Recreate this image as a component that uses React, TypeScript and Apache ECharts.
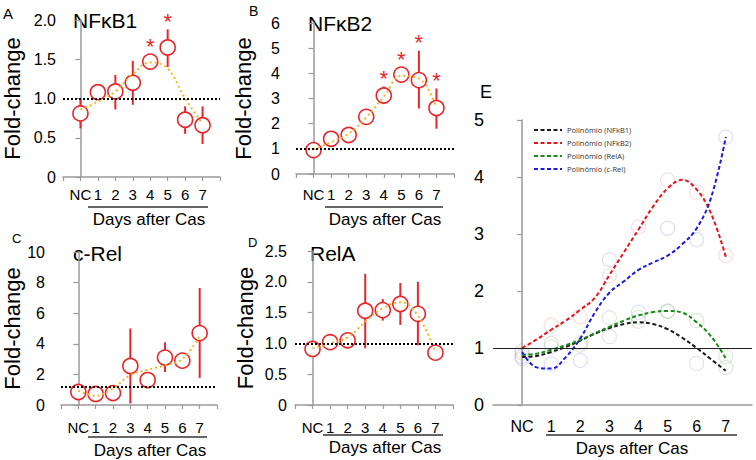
import React, { useEffect, useRef } from 'react';
import * as echarts from 'echarts';

// ---------- data ----------
const DAYS = [0, 1, 2, 3, 4, 5, 6, 7];
const X_LABELS = ['NC', '1', '2', '3', '4', '5', '6', '7'];

const NFKB1_MEAN = [0.81, 1.08, 1.09, 1.2, 1.47, 1.65, 0.73, 0.66];
const NFKB1_LOW = [0.62, 1.02, 0.86, 0.92, 1.42, 1.4, 0.55, 0.42];
const NFKB1_HIGH = [0.99, 1.14, 1.3, 1.48, 1.54, 1.88, 0.9, 0.9];
const NFKB1_FIT = [0.86, 0.96, 1.09, 1.31, 1.46, 1.38, 1.0, 0.68];
const NFKB1_SIG = [4, 5];
const NFKB1_BASE = 1.0;

const NFKB2_MEAN = [0.95, 1.4, 1.55, 2.27, 3.12, 3.95, 3.73, 2.62];
const NFKB2_LOW = [0.85, 1.3, 1.45, 2.15, 2.78, 3.8, 2.6, 1.8];
const NFKB2_HIGH = [1.05, 1.5, 1.65, 2.4, 3.48, 4.2, 4.9, 3.4];
const NFKB2_FIT = [0.98, 1.27, 1.6, 2.25, 3.07, 3.9, 3.8, 2.65];
const NFKB2_SIG = [4, 5, 6, 7];
const NFKB2_BASE = 1.0;

const CREL_MEAN = [0.85, 0.72, 0.78, 2.55, 1.63, 3.1, 2.9, 4.7];
const CREL_LOW = [0.7, 0.6, 0.65, 0.1, 1.1, 2.15, 2.7, 1.77];
const CREL_HIGH = [1.0, 0.85, 0.9, 5.0, 1.9, 4.1, 3.1, 7.65];
const CREL_FIT = [0.95, 0.6, 1.1, 1.95, 2.3, 2.6, 3.0, 4.5];
const CREL_SIG: number[] = [];
const CREL_BASE = 1.2;

const RELA_MEAN = [0.91, 1.02, 1.05, 1.53, 1.54, 1.64, 1.48, 0.85];
const RELA_LOW = [0.85, 0.96, 0.98, 0.92, 1.37, 1.3, 0.97, 0.8];
const RELA_HIGH = [0.97, 1.08, 1.12, 2.13, 1.72, 1.98, 2.0, 0.9];
const RELA_FIT = [0.92, 1.0, 1.1, 1.35, 1.57, 1.67, 1.45, 0.86];
const RELA_SIG: number[] = [];
const RELA_BASE = 1.0;

// panel E: polynomial fits read at half-day steps
const E_X = [0, 0.5, 1, 1.5, 2, 2.5, 3, 3.5, 4, 4.5, 5, 5.5, 6, 6.5, 7];
const E_FIT_NFKB1 = [0.84, 0.86, 0.93, 1.02, 1.13, 1.25, 1.35, 1.42, 1.45, 1.42, 1.33, 1.18, 1.0, 0.8, 0.6];
const E_FIT_NFKB2 = [1.0, 1.15, 1.32, 1.48, 1.67, 1.88, 2.28, 2.68, 3.08, 3.48, 3.8, 3.95, 3.78, 3.35, 2.6];
const E_FIT_RELA = [0.88, 0.9, 0.97, 1.05, 1.14, 1.26, 1.37, 1.48, 1.57, 1.63, 1.65, 1.62, 1.45, 1.2, 0.82];
const E_FIT_CREL = [0.93, 0.66, 0.64, 0.84, 1.17, 1.62, 1.97, 2.17, 2.37, 2.5, 2.62, 2.82, 3.1, 3.65, 4.7];
const E_NAMES = ['Polinômio (NFkB1)', 'Polinômio (NFkB2)', 'Polinômio (RelA)', 'Polinômio (c-Rel)'];

// ---------- styling ----------
const FONT = 'Liberation Sans, Arial, Helvetica, sans-serif';
const RED = '#e8262a';
const YELLOW = '#f6b324';
const AXIS_GRAY = '#9a9a9a';

const PANELS = [
  { title: 'NFκB1', letter: 'A', grid: { left: 62, top: 20, width: 158, height: 157 }, yMax: 2, yInt: 0.5, dec: 1,
    mean: NFKB1_MEAN, low: NFKB1_LOW, high: NFKB1_HIGH, fit: NFKB1_FIT, sig: NFKB1_SIG, base: NFKB1_BASE,
    yMargin: 7, xMargin: 10, nameGap: 40 },
  { title: 'NFκB2', letter: 'B', grid: { left: 296, top: 23, width: 158, height: 151 }, yMax: 6, yInt: 1, dec: 0,
    mean: NFKB2_MEAN, low: NFKB2_LOW, high: NFKB2_HIGH, fit: NFKB2_FIT, sig: NFKB2_SIG, base: NFKB2_BASE,
    yMargin: 16, xMargin: 13, nameGap: 42 },
  { title: 'c-Rel', letter: 'C', grid: { left: 59, top: 252, width: 158, height: 153 }, yMax: 10, yInt: 2, dec: 0,
    mean: CREL_MEAN, low: CREL_LOW, high: CREL_HIGH, fit: CREL_FIT, sig: CREL_SIG, base: CREL_BASE,
    yMargin: 16, xMargin: 15, nameGap: 38 },
  { title: 'RelA', letter: 'D', grid: { left: 295, top: 251, width: 158, height: 154 }, yMax: 2.5, yInt: 0.5, dec: 1,
    mean: RELA_MEAN, low: RELA_LOW, high: RELA_HIGH, fit: RELA_FIT, sig: RELA_SIG, base: RELA_BASE,
    yMargin: 8, xMargin: 15, nameGap: 39 },
];

const xFormatter = (v: number) => {
  if (Math.abs(v - Math.round(v)) > 1e-6) return '';
  const i = Math.round(v);
  return i >= 0 && i <= 7 ? X_LABELS[i] : '';
};

export default function App() {
  const ref = useRef<HTMLDivElement>(null);
  useEffect(() => {
    if (!ref.current) return;
    const chart = echarts.init(ref.current, undefined, { renderer: 'svg' });

    const grids: any[] = [];
    const xAxes: any[] = [];
    const yAxes: any[] = [];
    const series: any[] = [];

    PANELS.forEach((p, i) => {
      grids.push({ ...p.grid });
      xAxes.push({
        type: 'value', gridIndex: i, min: -1, max: 8, interval: 1,
        axisLine: { lineStyle: { color: AXIS_GRAY, width: 1.5 } },
        axisTick: { show: true, length: 4, lineStyle: { color: AXIS_GRAY, width: 1.2 } },
        splitLine: { show: false },
        axisLabel: { formatter: xFormatter, color: '#000', fontSize: 15, fontFamily: FONT, margin: p.xMargin },
      });
      yAxes.push({
        type: 'value', gridIndex: i, min: 0, max: p.yMax, interval: p.yInt,
        name: 'Fold-change', nameLocation: 'middle', nameGap: p.nameGap,
        nameTextStyle: { fontSize: 22, color: '#000', fontFamily: FONT },
        axisLine: { show: true, lineStyle: { color: AXIS_GRAY, width: 1.5 } },
        axisTick: { show: true, length: 5, lineStyle: { color: AXIS_GRAY, width: 1.2 } },
        splitLine: { show: false },
        axisLabel: {
          color: '#000', fontSize: 16, fontFamily: FONT, margin: p.yMargin,
          formatter: (v: number) => (v === 0 ? '0' : v.toFixed(p.dec)),
        },
      });
      // error bars
      series.push({
        type: 'custom', xAxisIndex: i, yAxisIndex: i, z: 2,
        data: DAYS.map((d) => [d, p.low[d], p.high[d]]),
        encode: { x: 0, y: [1, 2] },
        renderItem: (_params: any, api: any) => {
          const x = api.value(0);
          const a = api.coord([x, api.value(1)]);
          const b = api.coord([x, api.value(2)]);
          return { type: 'line', shape: { x1: a[0], y1: a[1], x2: b[0], y2: b[1] }, style: { stroke: RED, lineWidth: 2 } };
        },
      });
      // means
      series.push({
        type: 'scatter', xAxisIndex: i, yAxisIndex: i, z: 3,
        data: DAYS.map((d) => [d, p.mean[d]]),
        symbol: 'circle', symbolSize: 15,
        itemStyle: { color: '#ffffff', borderColor: RED, borderWidth: 1.6, opacity: 1 },
        markLine: {
          silent: true, symbol: ['none', 'none'], animation: false,
          label: { show: false },
          lineStyle: { color: '#000', type: [2, 2], width: 2 },
          data: [{ yAxis: p.base }],
        },
      });
      // fitted curve
      series.push({
        type: 'line', xAxisIndex: i, yAxisIndex: i, z: 4,
        data: DAYS.map((d) => [d, p.fit[d]]),
        smooth: 0.4, symbol: 'none',
        lineStyle: { color: YELLOW, width: 2, type: [2, 3] },
      });
      // significance asterisks
      if (p.sig.length) {
        series.push({
          type: 'custom', xAxisIndex: i, yAxisIndex: i, z: 5,
          data: p.sig.map((d) => [d, p.mean[d], p.high[d]]),
          encode: { x: 0, y: [1, 2] },
          renderItem: (_params: any, api: any) => {
            const x = api.value(0);
            const m = api.coord([x, api.value(1)]);
            const h = api.coord([x, api.value(2)]);
            const top = Math.min(h[1], m[1] - 7.5);
            return {
              type: 'text', x: m[0], y: top - 8,
              style: { text: '*', fill: RED, fontSize: 22, fontFamily: FONT, align: 'center', verticalAlign: 'middle' },
            };
          },
        });
      }
    });

    // ---- panel E ----
    const ei = PANELS.length;
    grids.push({ left: 493, top: 120, width: 259, height: 285 });
    xAxes.push({
      type: 'value', gridIndex: ei, min: -1, max: 7.9, interval: 1,
      axisLine: { lineStyle: { color: AXIS_GRAY, width: 1.5 } },
      axisTick: { show: false },
      splitLine: { show: false },
      axisLabel: { formatter: xFormatter, color: '#000', fontSize: 16, fontFamily: FONT, margin: 13 },
    });
    yAxes.push({
      type: 'value', gridIndex: ei, min: 0, max: 5, interval: 1,
      axisLine: { show: true, lineStyle: { color: AXIS_GRAY, width: 1.5 } },
      axisTick: { show: true, length: 5, lineStyle: { color: AXIS_GRAY, width: 1.2 } },
      splitLine: { show: false },
      axisLabel: { color: '#000', fontSize: 18, fontFamily: FONT, margin: 9 },
    });
    const E_POINTS = [NFKB1_MEAN, NFKB2_MEAN, RELA_MEAN, CREL_MEAN];
    const E_FITS = [E_FIT_NFKB1, E_FIT_NFKB2, E_FIT_RELA, E_FIT_CREL];
    const E_COLORS = ['#1a1a1a', '#e5141b', '#178a17', '#1c1cd8'];
    const E_FAINT = ['rgba(120,120,120,0.25)', 'rgba(235,90,90,0.25)', 'rgba(70,160,70,0.25)', 'rgba(90,90,230,0.25)'];
    E_POINTS.forEach((pts, k) => {
      series.push({
        type: 'scatter', xAxisIndex: ei, yAxisIndex: ei, z: 2,
        data: DAYS.map((d) => [d, pts[d]]),
        symbol: 'circle', symbolSize: 14,
        itemStyle: { color: 'rgba(255,255,255,0)', borderColor: E_FAINT[k], borderWidth: 1.2 },
      });
    });
    E_FITS.forEach((fit, k) => {
      series.push({
        name: E_NAMES[k],
        type: 'line', xAxisIndex: ei, yAxisIndex: ei, z: 4,
        data: E_X.map((x, j) => [x, fit[j]]),
        smooth: 0.4, symbol: 'none', showSymbol: false,
        itemStyle: { color: E_COLORS[k] },
        lineStyle: { color: E_COLORS[k], width: 2, type: [4, 2.5] },
        markLine: k === 0 ? {
          silent: true, symbol: ['none', 'none'], animation: false,
          label: { show: false },
          lineStyle: { color: '#222', type: 'solid', width: 1 },
          data: [{ yAxis: 1 }],
        } : undefined,
      });
    });

    const graphics: any[] = [];
    const txt = (text: string, x: number, y: number, size: number, align = 'left') => ({
      type: 'text', x, y,
      style: { text, fill: '#000', fontSize: size, fontFamily: FONT, align, verticalAlign: 'middle' },
    });
    const uline = (x1: number, x2: number, y: number) => ({
      type: 'line', shape: { x1, y1: y, x2, y2: y }, style: { stroke: '#333', lineWidth: 1.5 },
    });
    // letters
    graphics.push(txt('A', 3, 13, 15), txt('B', 249, 11, 14), txt('C', 12, 238, 13), txt('D', 248, 242, 13), txt('E', 480, 92, 18));
    // titles
    graphics.push(txt('NFκB1', 73, 20, 21), txt('NFκB2', 308, 23, 21), txt('c-Rel', 73, 253, 21), txt('RelA', 310, 253, 21));
    // day underlines and captions
    graphics.push(uline(88, 208, 207), uline(325, 443, 207), uline(88, 207, 437), uline(323, 443, 435), uline(546, 737, 435));
    graphics.push(
      txt('Days after Cas', 149, 219, 17, 'center'),
      txt('Days after Cas', 385, 219, 17, 'center'),
      txt('Days after Cas', 150, 450, 17, 'center'),
      txt('Days after Cas', 385, 447, 17, 'center'),
      txt('Days after Cas', 632, 448, 17, 'center'),
    );

    chart.setOption({
      animation: false,
      backgroundColor: '#ffffff',
      grid: grids,
      xAxis: xAxes,
      yAxis: yAxes,
      series,
      legend: {
        orient: 'vertical', left: 528, top: 121,
        itemWidth: 28, itemHeight: 8, itemGap: 5,
        data: E_NAMES,
        itemStyle: { opacity: 0 },
        textStyle: { fontSize: 7.5, color: '#333', fontFamily: 'Open Sans, sans-serif' },
        selectedMode: false,
      },
      graphic: graphics,
    });
    return () => chart.dispose();
  }, []);

  return <div ref={ref} style={{ position: 'fixed', left: 0, top: 0, width: 756, height: 460, background: '#fff' }} />;
}
